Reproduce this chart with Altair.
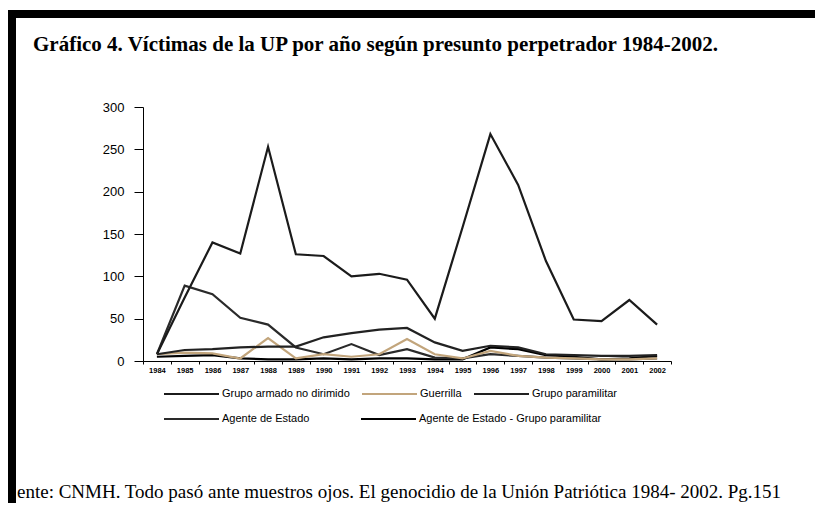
import altair as alt
import pandas as pd

# ---- data ----
years = [str(y) for y in range(1984, 2003)]
series_names = [
    "Grupo armado no dirimido",
    "Guerrilla",
    "Grupo paramilitar",
    "Agente de Estado",
    "Agente de Estado - Grupo paramilitar",
]
grupo_armado = [8, 75, 140, 127, 253, 126, 124, 100, 103, 96, 50, 158, 268, 208, 118, 49, 47, 72, 43]
guerrilla = [8, 10, 9, 3, 27, 3, 8, 5, 8, 26, 8, 3, 12, 6, 4, 3, 2, 2, 3]
paramilitar = [8, 13, 14, 16, 17, 17, 28, 33, 37, 39, 22, 12, 18, 16, 8, 7, 6, 6, 7]
agente = [8, 89, 79, 51, 43, 16, 8, 20, 7, 14, 4, 3, 8, 6, 4, 3, 2, 2, 3]
agente_para = [5, 6, 7, 3, 2, 2, 3, 2, 3, 3, 2, 2, 16, 14, 7, 5, 2, 3, 6]
y_ticks = [0, 50, 100, 150, 200, 250, 300]

title_text = "Gráfico 4. Víctimas de la UP por año según presunto perpetrador 1984-2002."
source_text = "ente: CNMH. Todo pasó ante muestros ojos. El genocidio de la Unión Patriótica 1984- 2002. Pg.151"

series_values = [grupo_armado, guerrilla, paramilitar, agente, agente_para]
rows = []
for name, vals in zip(series_names, series_values):
    for yr, v in zip(years, vals):
        rows.append({"Año": yr, "Víctimas": v, "Perpetrador": name})
df = pd.DataFrame(rows)

x_enc = alt.X(
    "Año:O",
    sort=years,
    scale=alt.Scale(type="band", paddingInner=0, paddingOuter=0),
    bandPosition=0.5,
    axis=alt.Axis(title=None, labelAngle=0, labelFontSize=7.5, labelFontWeight="bold",
                  tickBand="extent", tickSize=3, labelPadding=2, domainWidth=1),
)
y_enc = alt.Y(
    "Víctimas:Q",
    scale=alt.Scale(domain=[0, 300]),
    axis=alt.Axis(title=None, values=y_ticks, grid=False, tickSize=9, labelPadding=10,
                  labelFontSize=13),
)


def lines(names, colors, legend):
    return (
        alt.Chart(df)
        .transform_filter(alt.FieldOneOfPredicate(field="Perpetrador", oneOf=names))
        .mark_line(strokeWidth=2.2)
        .encode(
            x=x_enc,
            y=y_enc,
            color=alt.Color("Perpetrador:N", scale=alt.Scale(domain=names, range=colors), legend=legend),
        )
    )


def legend_at(lx, ly):
    return alt.Legend(
        title=None, orient="none", legendX=lx, legendY=ly, direction="horizontal",
        columns=3, gridAlign="none", symbolType="stroke", symbolSize=3025,
        symbolStrokeWidth=2, labelFontSize=11, labelFont="Liberation Sans", labelColor="black",
        labelOffset=2, columnPadding=11, clipHeight=14, padding=0, labelLimit=400,
    )


l1 = lines(series_names[:3], ["#1b1b1b", "#c2a57c", "#222222"], legend_at(20, 280))
l2 = lines([series_names[3]], ["#2a2a2a"], legend_at(20, 305))
l3 = lines([series_names[4]], ["#000000"], legend_at(217, 305))

one = pd.DataFrame({"k": [0]})
left_bar = alt.Chart(one).mark_rule(color="black", strokeWidth=8).encode(
    x=alt.value(-131), y=alt.value(-97), y2=alt.value(400))
top_bar = alt.Chart(one).mark_rule(color="black", strokeWidth=8).encode(
    x=alt.value(-135), x2=alt.value(680), y=alt.value(-93))

title = alt.Chart(pd.DataFrame({"t": [title_text]})).mark_text(
    align="left", baseline="middle", font="Liberation Serif", fontWeight="bold",
    fontSize=21, color="black").encode(x=alt.value(-110), y=alt.value(-62), text="t:N")
source = alt.Chart(pd.DataFrame({"t": [source_text]})).mark_text(
    align="left", baseline="middle", font="Liberation Serif", fontSize=19,
    color="black").encode(x=alt.value(-126), y=alt.value(385), text="t:N")

chart = (
    alt.layer(l3, l2, l1, title, source, left_bar, top_bar)
    .resolve_scale(color="independent")
    .properties(
        width=528, height=254,
        autosize=alt.AutoSizeParams(type="none"),
        padding={"left": 135, "top": 99, "right": 144, "bottom": 142},
        background="white",
    )
    .configure_view(strokeWidth=0)
    .configure_axis(domainColor="black", tickColor="black", labelColor="black",
                    labelFont="Liberation Sans")
)

chart.save("out.html", embed_options={"renderer": "svg", "actions": False})
